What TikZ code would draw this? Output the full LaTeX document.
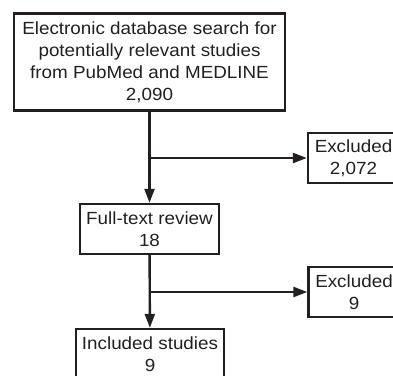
\documentclass[tikz,border=0pt]{standalone}
\usepackage{fontspec}
\setmainfont{Liberation Sans}[FakeStretch=1.07]
\usetikzlibrary{arrows.meta}
\definecolor{ink}{HTML}{231F20}

\begin{document}
\begin{tikzpicture}[x=1pt, y=-1pt, line width=2.4pt, draw=ink, text=ink,
    font=\fontsize{17.6}{22}\selectfont,
    box/.style={draw, align=center, inner sep=0pt, minimum height=50pt},
    flow/.style={-{Triangle[length=14pt,width=10pt]}}]
  \useasboundingbox (0,0) rectangle (393,375);
  \node[box, minimum width=271pt, minimum height=97pt] (search) at (149.5,62)
    {Electronic database search for\\potentially relevant studies\\from PubMed and MEDLINE\\2,090};
  \node[box, minimum width=139pt] (review) at (149.5,229) {Full-text review\\18};
  \node[box, minimum width=148pt] (included) at (150,354) {Included studies\\9};
  \node[box, minimum width=91pt] (excl1) at (353.5,158) {Excluded\\2,072};
  \node[box, minimum width=91pt] (excl2) at (354,292) {Excluded\\9};
  \coordinate (split1) at (149.5,158);
  \coordinate (split2) at (149.5,292);
  \draw[flow] (search) -- (review);
  \draw[flow] (split1) -- (excl1);
  \draw[flow] (review) -- (included);
  \draw[flow] (split2) -- (excl2);
\end{tikzpicture}
\end{document}
